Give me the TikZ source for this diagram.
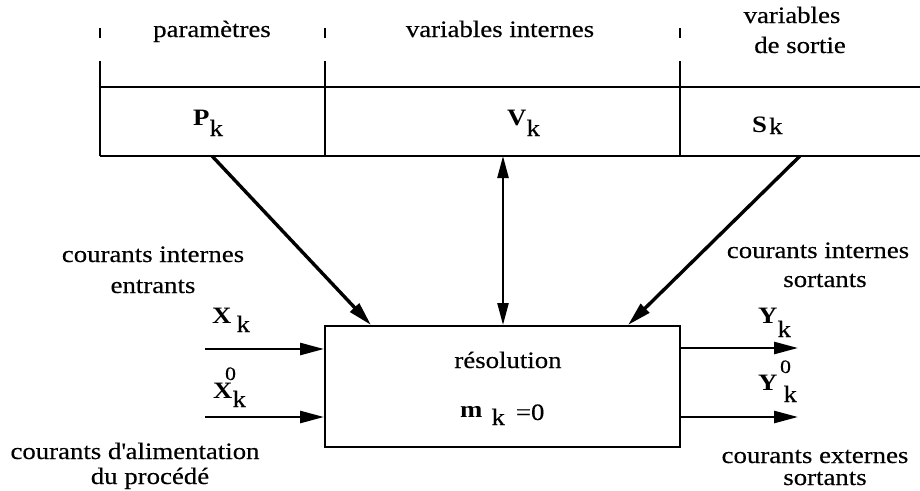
\documentclass[tikz,border=0pt]{standalone}
\usepackage{fontspec}
\setmainfont{Liberation Serif}[FakeStretch=1.14, UprightFeatures={FakeBold=0.3}]
\usetikzlibrary{arrows.meta}
\newcommand{\lowr}[2]{\raisebox{-#1}[0pt][0pt]{#2}}
\begin{document}
\begin{tikzpicture}[x=1pt,y=-1pt,
  font=\fontsize{23.5}{29}\selectfont,
  lbl/.style={inner sep=0pt, anchor=base},
  lblw/.style={inner sep=0pt, anchor=base west},
  barline/.style={line width=1.8pt},
  boxline/.style={line width=2pt},
  diagarr/.style={line width=3.4pt, -{Triangle[length=24pt,width=12pt]}},
  dblarr/.style={line width=2.4pt, {Triangle[length=22pt,width=11pt]}-{Triangle[length=22pt,width=11pt]}},
  harr/.style={line width=2.6pt, -{Triangle[length=24pt,width=12pt]}}]
\useasboundingbox (0,0) rectangle (920,490);
\fill[white] (0,0) rectangle (920,490);
% top labels
\node[lbl] (tpar) at (212,37) {paramètres};
\node[lbl] (tvar) at (500,37) {variables internes};
\node[lbl] (tsor1) at (792,23) {variables};
\node[lbl] (tsor2) at (800,53) {de sortie};
% ticks and bar
\foreach \x in {100,325,680} {
  \draw[barline] (\x,28) -- (\x,38);
  \draw[barline] (\x,61) -- (\x,156);
}
\draw[barline] (100,87) -- (920,87);
\draw[barline] (100,156) -- (920,156);
% cell contents
\node[lblw] (pk) at (193,125) {\textbf{P}\lowr{11pt}{k}};
\node[lblw] (vk) at (507,125) {\textbf{V}\lowr{11pt}{k}};
\node[lblw] (sk) at (752,132) {\textbf{S}\hspace{2pt}\lowr{2pt}{k}};
\coordinate (pout) at (212,156);
\coordinate (vout) at (503,156);
\coordinate (sout) at (800,156);
% resolution box
\node[draw, boxline, minimum width=355pt, minimum height=121pt, inner sep=0pt] (res) at (502.5,386.5) {};
\node[lbl] (tres) at (508,368) {résolution};
\node[lblw] (tm) at (460,417) {\textbf{m}\hspace{9pt}\lowr{8pt}{k}\hspace{11pt}\lowr{3pt}{=0}};
% arrows from the bar
\draw[diagarr] (pout) -- ([xshift=47pt]res.north west);
\draw[diagarr] (sout) -- ([xshift=-53pt]res.north east);
\draw[dblarr] (vout) -- (vout |- res.north);
% inputs
\coordinate (xin) at (205,349);
\coordinate (x0in) at (205,417);
\draw[harr] (xin) -- (xin -| res.west);
\draw[harr] (x0in) -- (x0in -| res.west);
\node[lblw] (xk) at (212,323) {\textbf{X}\hspace{5pt}\lowr{9pt}{k}};
\node[lblw] (xk0) at (213,398) {\textbf{X}\lowr{9pt}{k}\llap{\raisebox{18pt}[0pt][0pt]{\fontsize{19}{20}\selectfont 0}\hspace{10pt}}};
% outputs
\coordinate (yout) at (798,348);
\coordinate (y0out) at (798,417);
\draw[harr] (yout -| res.east) -- (yout);
\draw[harr] (y0out -| res.east) -- (y0out);
\node[lblw] (yk) at (758,323) {\textbf{Y}\lowr{14pt}{k}};
\node[lblw] (yk0) at (758,390) {\textbf{Y}\hspace{6pt}\lowr{12pt}{k}\llap{\raisebox{17pt}[0pt][0pt]{\fontsize{19}{20}\selectfont 0}\hspace{6pt}}};
% side labels
\node[lbl] (lci1) at (153,262) {courants internes};
\node[lbl] (lci2) at (153,293) {entrants};
\node[lbl] (lca1) at (135,459) {courants d\textquotesingle alimentation};
\node[lbl] (lca2) at (150,484) {du procédé};
\node[lbl] (rci1) at (818,258) {courants internes};
\node[lbl] (rci2) at (825,287) {sortants};
\node[lbl] (rce1) at (815,463) {courants externes};
\node[lbl] (rce2) at (825,485) {sortants};
\end{tikzpicture}
\end{document}
